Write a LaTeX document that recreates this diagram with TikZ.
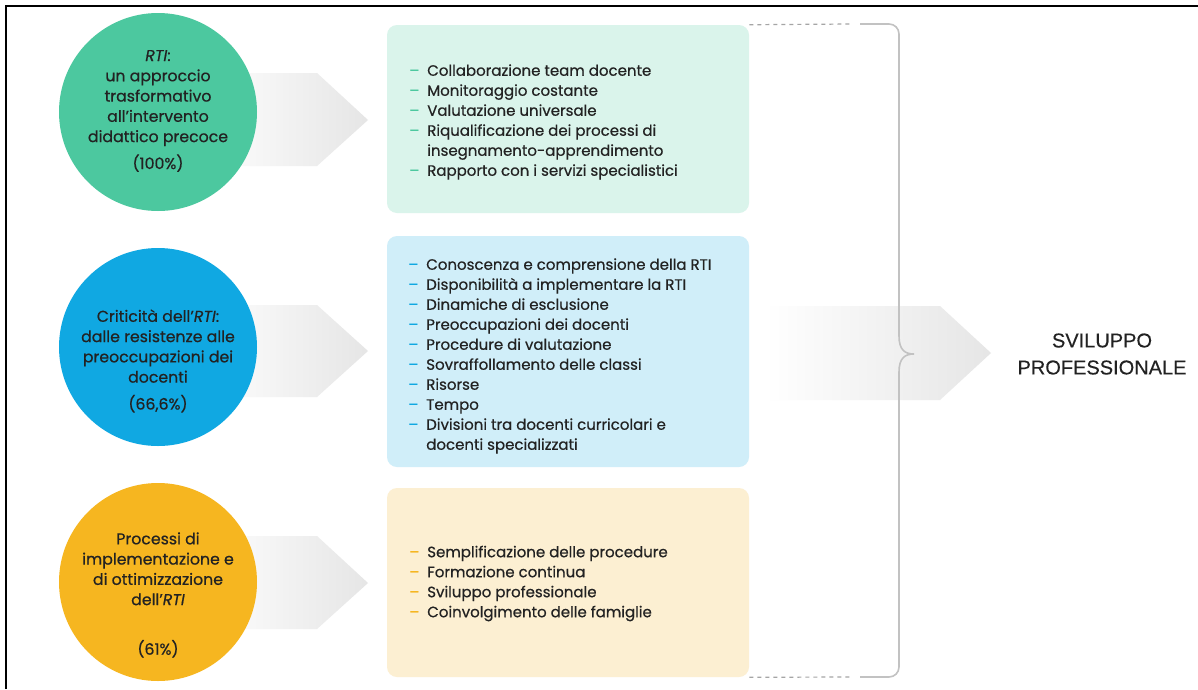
\documentclass[tikz,border=0pt]{standalone}
\usepackage{fontspec}
\setmainfont{Poppins}[UprightFeatures={FakeBold=0.6},ItalicFeatures={FakeBold=0.6}]
\newfontfamily\arialf{Liberation Sans}[FakeBold=0.3]
\definecolor{cgreen}{HTML}{4CC89F}
\definecolor{cblue}{HTML}{10A8E2}
\definecolor{cyellow}{HTML}{F6B620}
\definecolor{bgreen}{HTML}{DAF4EB}
\definecolor{bblue}{HTML}{D0EEF9}
\definecolor{byellow}{HTML}{FCEFD2}
\definecolor{txt}{HTML}{222222}
\definecolor{brace}{HTML}{C2C2C2}
\newcommand{\itm}[2]{\makebox[13.5pt][l]{\color{#1}–}#2}
\newcommand{\cnt}[1]{\hspace*{13.5pt}#1}
\begin{document}
\begin{tikzpicture}[x=0.75pt,y=-0.75pt,
  bubble/.style={circle,minimum size=148.5pt,inner sep=0pt},
  panel/.style={rectangle,rounded corners=7.5pt,minimum width=271.5pt,inner sep=0pt},
  bubtxt/.style={align=center,text=txt,font=\fontsize{11.8pt}{15.2pt}\selectfont,inner sep=0pt},
  listtxt/.style={align=left,anchor=west,text=txt,font=\fontsize{11.25pt}{15pt}\selectfont,inner sep=0pt},
  chev/.style={left color=white,right color=black!10}]
\useasboundingbox (0,0) rectangle (1198,689);
\fill[white] (0,0) rectangle (1198,689);
\draw[line width=1.5pt] (6,689) -- (6,6) -- (1198,6);
% chevrons
\shade[chev] (200,73) -- (317,73) -- (368,120) -- (317,166) -- (200,166) -- cycle;
\shade[chev] (200,305) -- (317,305) -- (368,351) -- (317,397) -- (200,397) -- cycle;
\shade[chev] (200,536) -- (317,536) -- (368,583) -- (317,629) -- (200,629) -- cycle;
\shade[chev] (765,306) -- (940,306) -- (991,353) -- (940,400) -- (765,400) -- cycle;
% circles
\node[bubble,fill=cgreen] (c1) at (158,112) {};
\node[bubble,fill=cblue] (c2) at (158,347) {};
\node[bubble,fill=cyellow] (c3) at (158,582) {};
\node[bubtxt] (t1) at (158,111) {{\itshape RTI}:\\un approccio\\trasformativo\\all’intervento\\didattico precoce\\[5pt](100\%)};
\node[bubtxt] (t2) at (158,361) {Criticità dell’{\itshape RTI}:\\dalle resistenze alle\\preoccupazioni dei\\docenti\\[5pt](66,6\%)};
\node[bubtxt] (t3) at (158,595) {Processi di\\implementazione e\\di ottimizzazione\\dell’{\itshape RTI}\\[22pt](61\%)};
% panels
\node[panel,fill=bgreen,minimum height=141pt] (b1) at (568,119) {};
\node[panel,fill=bblue,minimum height=173.25pt] (b2) at (568,351.5) {};
\node[panel,fill=byellow,minimum height=141.75pt] (b3) at (568,582.5) {};
\node[listtxt] (l1) at (409,122) {\itm{cgreen}{Collaborazione team docente}\\\itm{cgreen}{Monitoraggio costante}\\\itm{cgreen}{Valutazione universale}\\\itm{cgreen}{Riqualificazione dei processi di}\\\cnt{insegnamento-apprendimento}\\\itm{cgreen}{Rapporto con i servizi specialistici}};
\node[listtxt] (l2) at (408,356) {\itm{cblue}{Conoscenza e comprensione della RTI}\\\itm{cblue}{Disponibilità a implementare la RTI}\\\itm{cblue}{Dinamiche di esclusione}\\\itm{cblue}{Preoccupazioni dei docenti}\\\itm{cblue}{Procedure di valutazione}\\\itm{cblue}{Sovraffollamento delle classi}\\\itm{cblue}{Risorse}\\\itm{cblue}{Tempo}\\\itm{cblue}{Divisioni tra docenti curricolari e}\\\cnt{docenti specializzati}};
\node[listtxt] (l3) at (409,583.5) {\itm{cyellow}{Semplificazione delle procedure}\\\itm{cyellow}{Formazione continua}\\\itm{cyellow}{Sviluppo professionale}\\\itm{cyellow}{Coinvolgimento delle famiglie}};
% brace
\coordinate (bt) at (860,24);
\coordinate (bb) at (860,677);
\draw[brace!85!black,dashed,line width=0.9pt] (b1.north east) -- (852,24);
\draw[brace!85!black,dashed,line width=0.9pt] (b3.south east) -- (852,677);
\draw[brace,line width=1.2pt,rounded corners=7.5pt] (bt) -- (899,24) -- (899,320);
\draw[brace,line width=1.2pt] (899,319) -- (899,336)
  .. controls (899,350) and (905,354) .. (914,354)
  .. controls (905,354) and (899,358) .. (899,372) -- (899,389);
\draw[brace,line width=1.2pt,rounded corners=7.5pt] (899,388) -- (899,677) -- (bb);
\node[align=center,text=txt,font=\arialf\fontsize{15pt}{20.25pt}\selectfont,inner sep=0pt] (sp) at (1102,354) {SVILUPPO\\PROFESSIONALE};
\end{tikzpicture}
\end{document}
